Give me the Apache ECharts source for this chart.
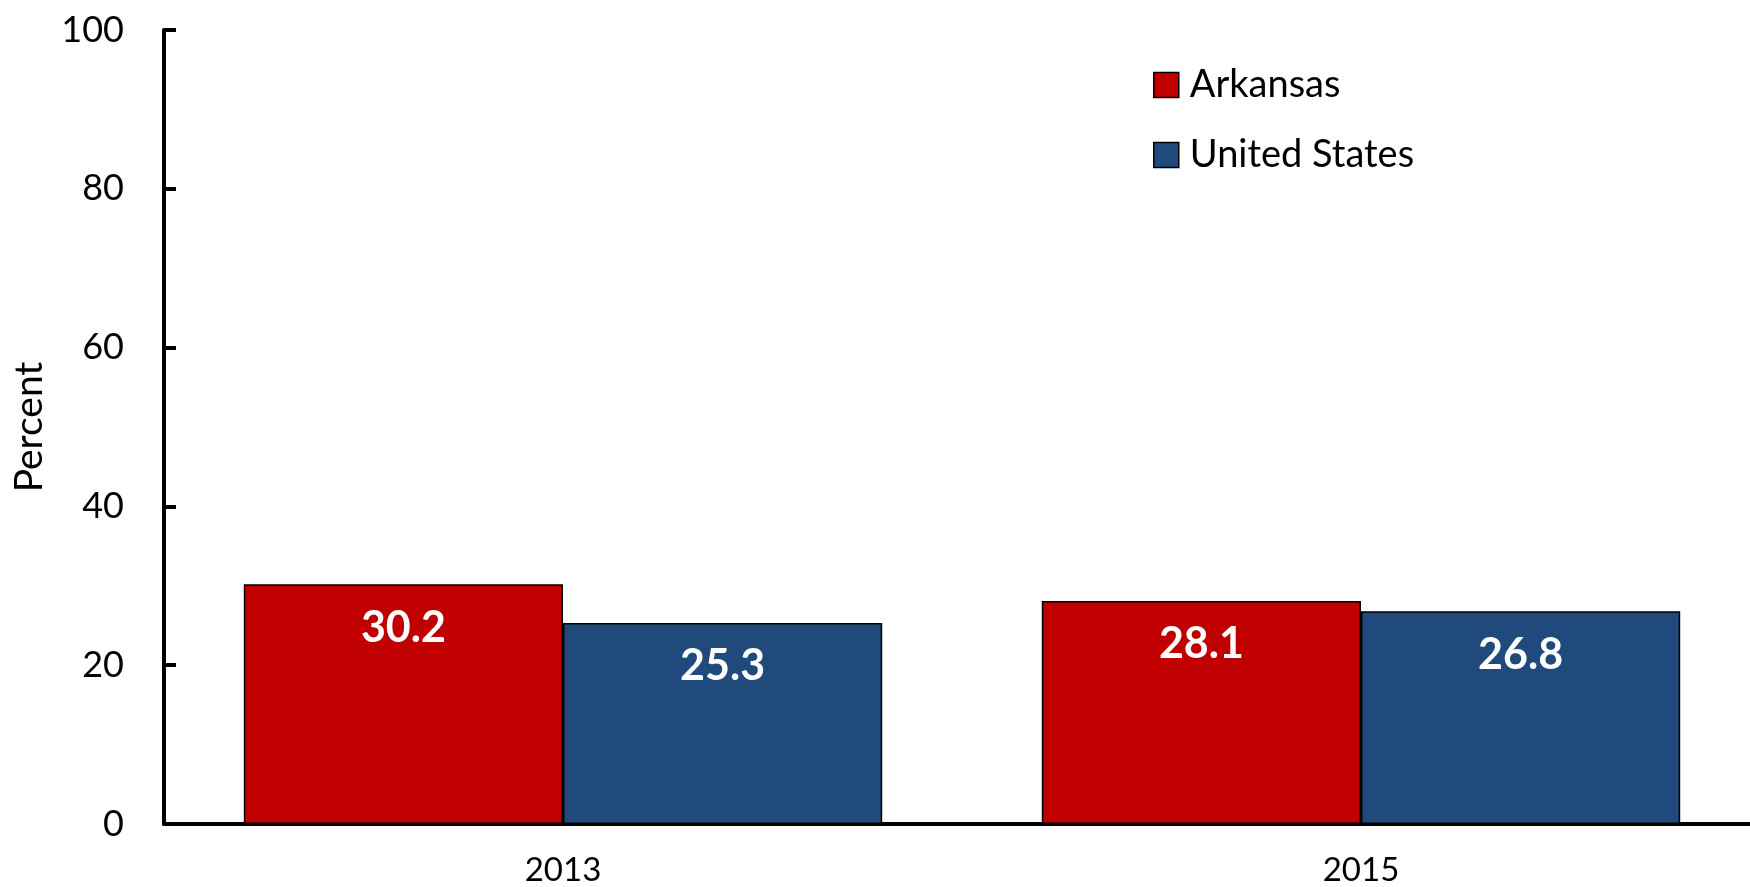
<!DOCTYPE html>
<html>
<head>
<meta charset="utf-8">
<script src="https://cdn.jsdelivr.net/npm/echarts@6/dist/echarts.min.js"></script>
<style>
  html, body { margin: 0; padding: 0; background: #fff; overflow: hidden; }
  #chart { width: 1760px; height: 887px; }
</style>
</head>
<body>
<div id="chart"></div>
<script>
// Chart data
const years = ['2013', '2015'];
const arkansas = [30.2, 28.1];
const unitedStates = [25.3, 26.8];
const yTicks = [0, 20, 40, 60, 80, 100];

const FONT = 'Lato, "Liberation Sans", sans-serif';

// the x axis runs a little past the right edge of the window, as in the original
const chart = echarts.init(document.getElementById('chart'));

const labelStyle = {
    show: true,
    position: 'insideTop',
    distance: 22,
    color: '#fff',
    fontFamily: FONT,
    fontWeight: 'bold',
    fontSize: 43,
    formatter: p => p.value.toFixed(1)
};

const option = {
    animation: false,
    grid: {
        left: 164,
        right: 0,
        top: 30,
        bottom: 62
    },
    legend: {
        orient: 'vertical',
        left: 1153,
        top: 66,
        padding: 0,
        icon: 'rect',
        itemWidth: 25,
        itemHeight: 25,
        itemGap: 32,
        itemStyle: { borderColor: '#000', borderWidth: 1.5 },
        textStyle: {
            fontFamily: FONT,
            fontSize: 38,
            color: '#000',
            padding: [0, 0, 0, 6]
        },
        data: ['Arkansas', 'United States']
    },
    xAxis: {
        type: 'category',
        data: years,
        axisLine: { lineStyle: { color: '#000', width: 4 } },
        axisTick: { show: false },
        axisLabel: {
            fontFamily: FONT,
            fontSize: 33,
            color: '#000',
            margin: 30
        }
    },
    yAxis: {
        type: 'value',
        min: 0,
        max: 100,
        interval: 20,
        name: 'Percent',
        nameLocation: 'middle',
        nameGap: 115,
        nameTextStyle: {
            fontFamily: FONT,
            fontSize: 39,
            color: '#000'
        },
        axisLine: { show: true, lineStyle: { color: '#000', width: 4 } },
        axisTick: {
            show: true,
            inside: true,
            length: 12,
            lineStyle: { color: '#000', width: 4 }
        },
        axisLabel: {
            fontFamily: FONT,
            fontSize: 36,
            color: '#000',
            margin: 40,
            formatter: v => (yTicks.includes(v) ? String(v) : '')
        },
        splitLine: { show: false }
    },
    series: [
        {
            name: 'Arkansas',
            type: 'bar',
            data: arkansas,
            barGap: '0%',
            barCategoryGap: '20%',
            itemStyle: { color: '#C00000', borderColor: '#000', borderWidth: 1.5 },
            label: labelStyle
        },
        {
            name: 'United States',
            type: 'bar',
            data: unitedStates,
            itemStyle: { color: '#204A7C', borderColor: '#000', borderWidth: 1.5 },
            label: labelStyle
        }
    ]
};

chart.setOption(option);

window.addEventListener('resize', () => {
    chart.resize();
});
</script>
</body>
</html>
